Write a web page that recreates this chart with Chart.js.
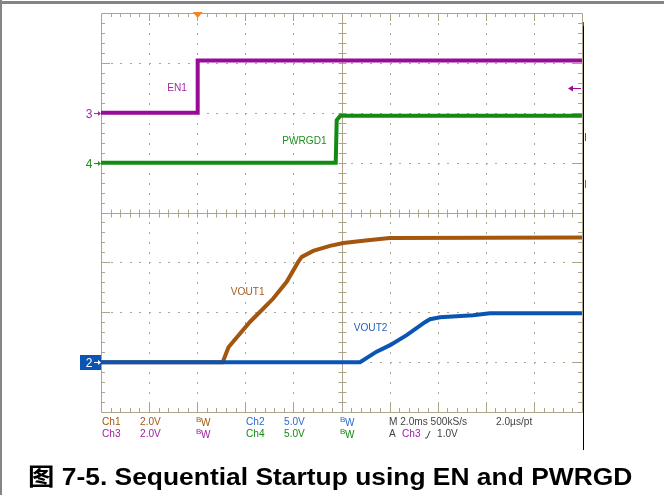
<!DOCTYPE html>
<html>
<head>
<meta charset="utf-8">
<script src="https://cdn.jsdelivr.net/npm/chart.js@4"></script>
<style>
  html, body { margin: 0; padding: 0; background: #fff; }
  #wrap { position: relative; width: 664px; height: 502px; overflow: hidden; }
  #scope { position: absolute; left: 0; top: 0; }
  #caption { position: absolute; left: 28px; top: 463px; font: bold 24px/24px "Liberation Sans", Arial, sans-serif; white-space: nowrap; color: #000; transform: scaleX(1.1); transform-origin: 0 0; }
  #caption span { font-family: "Noto Sans CJK SC", sans-serif; }
</style>
</head>
<body>
<div id="wrap">
  <canvas id="scope" width="664" height="502"></canvas>
  <div id="caption"><span>图</span> 7-5. Sequential Startup using EN and PWRGD</div>
</div>
<script>
// time in ms (2 ms/div, 10 div), level in screen divisions (0 = bottom, 8 = top)
var en1Time = [0, 4.02, 4.02, 20];
var en1Level = [6.0, 6.0, 7.05, 7.05];

var pwrgdTime = [0, 9.76, 9.8, 9.95, 20];
var pwrgdLevel = [5.0, 5.0, 5.85, 5.94, 5.94];

var vout1Time = [0, 5.06, 5.3, 6.2, 6.68, 7.17, 7.72, 8.2, 8.35, 8.82, 9.52, 10.08, 11.0, 12.0, 20];
var vout1Level = [1.0, 1.0, 1.3, 1.81, 2.04, 2.28, 2.61, 3.01, 3.11, 3.23, 3.33, 3.39, 3.44, 3.49, 3.5];

var vout2Time = [0, 10.77, 11.46, 12.02, 12.71, 13.47, 13.68, 14.1, 15.47, 16.17, 20];
var vout2Level = [1.0, 1.0, 1.21, 1.34, 1.54, 1.80, 1.86, 1.90, 1.94, 1.98, 1.98];

var traceNames = ['VOUT2', 'VOUT1', 'PWRGD1', 'EN1'];
var traceColors = ['#0a55b4', '#a2560e', '#138a13', '#990a99'];

// channel readouts under the screen
var chNames = ['Ch1', 'Ch2', 'Ch3', 'Ch4'];
var chScales = ['2.0V', '5.0V', '2.0V', '5.0V'];
var chColors = ['#a2560e', '#2a6acc', '#a020a0', '#138a13'];
var timebase = 'M 2.0ms 500kS/s';
var sampleRate = '2.0\u00b5s/pt';
var trigSource = 'Ch3';
var trigLevel = '1.0V';
var trigTime = 4.02;     // ms
var trigLevelDiv = 6.5;  // Ch3 ref 6 div + 1.0V / 2.0V per div

function pts(t, v) {
    var out = [];
    for (var i = 0; i < t.length; i++) out.push({ x: t[i], y: v[i] });
    return out;
}

var grid = '#aca58b';
var narrow = '"Liberation Sans Narrow", "Arial Narrow", "Liberation Sans", Arial, sans-serif';

// draws text squeezed a little, like the scope's narrow font
function narrowText(ctx, s, x, y) {
    ctx.save();
    ctx.translate(x, y);
    ctx.scale(0.92, 1);
    ctx.fillText(s, 0, 0);
    ctx.restore();
}

var scopePlugin = {
    id: 'scope',
    beforeDatasetsDraw: function (chart) {
        var ctx = chart.ctx;
        var xs = chart.scales.x, ys = chart.scales.y;
        var L = Math.round(xs.getPixelForValue(0)), R = Math.round(xs.getPixelForValue(20));
        var T = Math.round(ys.getPixelForValue(8)), B = Math.round(ys.getPixelForValue(0));
        ctx.save();
        // page frame
        ctx.fillStyle = '#858585';
        ctx.fillRect(0, 1, 664, 3);
        ctx.fillRect(0, 0, 2, 495);
        ctx.fillStyle = grid;
        // dotted major lines
        for (var i = 1; i < 10; i++) {
            if (i === 5) continue;
            var gx = Math.round(xs.getPixelForValue(i * 2));
            for (var j = 1; j < 40; j++) {
                ctx.fillRect(gx, Math.round(ys.getPixelForValue(j * 0.2)), 1, 2);
            }
        }
        for (var j = 1; j < 8; j++) {
            if (j === 4) continue;
            var gy = Math.round(ys.getPixelForValue(j));
            for (var i = 1; i < 50; i++) {
                ctx.fillRect(Math.round(xs.getPixelForValue(i * 0.4)), gy, 2, 1);
            }
        }
        ctx.strokeStyle = grid;
        ctx.lineWidth = 1;
        ctx.beginPath();
        // border
        ctx.rect(L + 0.5, T + 0.5, R - L, B - T);
        var cx = Math.round(xs.getPixelForValue(10)) + 0.5;
        var cy = Math.round(ys.getPixelForValue(4)) + 0.5;
        ctx.moveTo(cx, T); ctx.lineTo(cx, B);
        ctx.moveTo(L, cy); ctx.lineTo(R, cy);
        // ticks along x
        for (var i = 1; i < 50; i++) {
            var px = Math.round(xs.getPixelForValue(i * 0.4)) + 0.5;
            var len = (i % 5 === 0) ? 8 : 4;
            ctx.moveTo(px, T); ctx.lineTo(px, T + len);
            ctx.moveTo(px, B); ctx.lineTo(px, B - len);
            ctx.moveTo(px, cy - 4); ctx.lineTo(px, cy + 4);
        }
        for (var j = 1; j < 40; j++) {
            var py = Math.round(ys.getPixelForValue(j * 0.2)) + 0.5;
            var len2 = (j % 5 === 0) ? 9 : 4;
            ctx.moveTo(L, py); ctx.lineTo(L + len2, py);
            ctx.moveTo(R, py); ctx.lineTo(R - len2, py);
            ctx.moveTo(cx - 4, py); ctx.lineTo(cx + 4, py);
        }
        ctx.stroke();
        ctx.restore();
    },
    afterDatasetsDraw: function (chart) {
        var ctx = chart.ctx;
        var xs = chart.scales.x, ys = chart.scales.y;
        var L = Math.round(xs.getPixelForValue(0)), R = Math.round(xs.getPixelForValue(20));
        var T = Math.round(ys.getPixelForValue(8)), B = Math.round(ys.getPixelForValue(0));
        ctx.save();
        // right edge black line
        ctx.fillStyle = '#000';
        ctx.fillRect(R + 1, T + 9, 1, 450 - T - 9);

        // trace labels
        ctx.font = '11px ' + narrow;
        ctx.textAlign = 'center';
        ctx.textBaseline = 'middle';
        var labels = [
            ['EN1', 3.16, 6.49, '#a32aa3'],
            ['PWRGD1', 8.46, 5.43, '#1f8f1f'],
            ['VOUT1', 6.1, 2.40, '#a55c20'],
            ['VOUT2', 11.21, 1.68, '#2462c0']
        ];
        labels.forEach(function (l) {
            ctx.fillStyle = l[3];
            narrowText(ctx, l[0], xs.getPixelForValue(l[1]), ys.getPixelForValue(l[2]));
        });

        // trigger position marker
        var tx = xs.getPixelForValue(trigTime);
        ctx.fillStyle = '#f58220';
        ctx.beginPath();
        ctx.moveTo(tx - 5, T - 1); ctx.lineTo(tx + 5, T - 1); ctx.lineTo(tx, T + 5);
        ctx.closePath(); ctx.fill();

        // trigger level arrow on right
        var ty = Math.round(ys.getPixelForValue(trigLevelDiv)) + 0.5;
        ctx.strokeStyle = '#990a99';
        ctx.fillStyle = '#990a99';
        ctx.lineWidth = 1;
        ctx.beginPath(); ctx.moveTo(R - 13, ty); ctx.lineTo(R - 1, ty); ctx.stroke();
        ctx.beginPath(); ctx.moveTo(R - 14, ty); ctx.lineTo(R - 9, ty - 3); ctx.lineTo(R - 9, ty + 3); ctx.closePath(); ctx.fill();

        // off-screen markers on right
        ctx.fillStyle = '#1a5ab0';
        ctx.fillRect(R + 3, Math.round(ys.getPixelForValue(5.51)) - 4, 1, 8);
        ctx.fillStyle = '#a2560e';
        ctx.fillRect(R + 3, Math.round(ys.getPixelForValue(4.57)) - 4, 1, 8);
        ctx.fillStyle = '#3a5a8a';
        ctx.fillRect(R + 1, T + 9, 1, 4);

        // channel ground markers on left
        ctx.textAlign = 'center';
        ctx.font = '12px ' + narrow;
        function leftMark(level, color, num) {
            var y = Math.round(ys.getPixelForValue(level)) + 0.5;
            ctx.fillStyle = color; ctx.strokeStyle = color;
            ctx.fillText(String(num), L - 12, y + 1);
            ctx.beginPath(); ctx.moveTo(L - 7, y); ctx.lineTo(L - 1, y); ctx.stroke();
            ctx.beginPath(); ctx.moveTo(L, y); ctx.lineTo(L - 3, y - 2.5); ctx.lineTo(L - 3, y + 2.5); ctx.closePath(); ctx.fill();
        }
        leftMark(6.0, '#a32aa3', 3);
        leftMark(5.0, '#1f8f1f', 4);
        var by = Math.round(ys.getPixelForValue(1.0));
        ctx.fillStyle = '#0a55b4';
        ctx.fillRect(L - 21, by - 7, 21, 15);
        leftMark(1.0, '#ffffff', 2);

        // readouts
        var row1 = Math.round(ys.getPixelForValue(0)) + 10;
        var row2 = row1 + 12;
        ctx.textAlign = 'left';
        ctx.font = '11px ' + narrow;
        function bw(x, y, color) {
            ctx.fillStyle = color;
            ctx.font = '8px ' + narrow;
            ctx.fillText('B', x, y - 2);
            ctx.font = '10px ' + narrow;
            ctx.fillText('W', x + 5, y + 1);
            ctx.font = '11px ' + narrow;
        }
        var colsX = [L + 1, L + 39, L + 95];
        var colsX2 = [L + 145, L + 183, L + 239];
        [0, 2].forEach(function (c, r) {
            var y = r === 0 ? row1 : row2;
            ctx.fillStyle = chColors[c];
            narrowText(ctx, chNames[c], colsX[0], y);
            narrowText(ctx, chScales[c], colsX[1], y);
            bw(colsX[2], y, chColors[c]);
            ctx.fillStyle = chColors[c + 1];
            narrowText(ctx, chNames[c + 1], colsX2[0], y);
            narrowText(ctx, chScales[c + 1], colsX2[1], y);
            bw(colsX2[2], y, chColors[c + 1]);
        });
        ctx.fillStyle = '#444';
        narrowText(ctx, timebase, L + 288, row1);
        narrowText(ctx, sampleRate, L + 395, row1);
        narrowText(ctx, 'A', L + 288, row2);
        ctx.fillStyle = '#a020a0';
        narrowText(ctx, trigSource, L + 301, row2);
        ctx.fillStyle = '#444';
        narrowText(ctx, trigLevel, L + 336, row2);
        // rising edge glyph
        ctx.strokeStyle = '#444';
        ctx.beginPath();
        ctx.moveTo(L + 324, row2 + 4); ctx.lineTo(L + 326, row2 + 4);
        ctx.lineTo(L + 329, row2 - 3); ctx.stroke();
        ctx.restore();
    }
};

var series = [pts(vout2Time, vout2Level), pts(vout1Time, vout1Level), pts(pwrgdTime, pwrgdLevel), pts(en1Time, en1Level)];
var datasets = series.map(function (d, i) {
    return {
        label: traceNames[i],
        data: d,
        borderColor: traceColors[i],
        borderWidth: 4,
        pointRadius: 0,
        tension: 0,
        fill: false
    };
});

new Chart(document.getElementById('scope'), {
    type: 'line',
    data: { datasets: datasets },
    options: {
        responsive: false,
        animation: false,
        layout: { padding: { left: 101, top: 13, right: 82, bottom: 90 } },
        scales: {
            x: { type: 'linear', min: 0, max: 20, display: false },
            y: { type: 'linear', min: 0, max: 8, display: false }
        },
        plugins: { legend: { display: false }, tooltip: { enabled: false } }
    },
    plugins: [scopePlugin]
});
</script>
</body>
</html>
